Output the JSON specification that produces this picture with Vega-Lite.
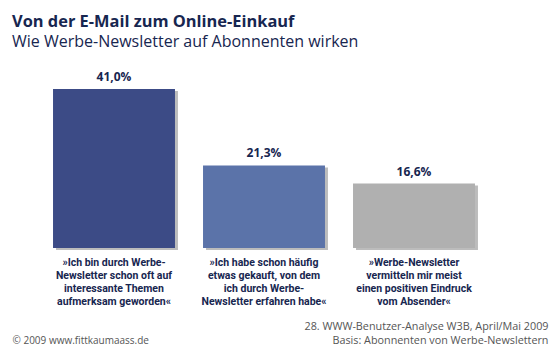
{
  "$schema": "https://vega.github.io/schema/vega-lite/v6.json",
  "autosize": {"type": "none"},
  "padding": {"left": 39, "top": 89, "right": 71, "bottom": 102},
  "width": 450,
  "height": 159,
  "background": "white",
  "title": {
    "text": "Von der E-Mail zum Online-Einkauf",
    "subtitle": "Wie Werbe-Newsletter auf Abonnenten wirken",
    "anchor": "start",
    "frame": "group",
    "dx": -27,
    "offset": 21,
    "font": "Open Sans",
    "fontSize": 16.4,
    "fontWeight": "bold",
    "color": "#172650",
    "subtitleFont": "Open Sans",
    "subtitleFontSize": 16,
    "subtitleColor": "#172650",
    "subtitlePadding": 4
  },
  "data": {
    "values": [
      {"aussage": "»Ich bin durch Werbe-|Newsletter schon oft auf|interessante Themen|aufmerksam geworden«", "anteil": 41.0, "label": "41,0%", "gruppe": "a"},
      {"aussage": "»Ich habe schon häufig|etwas gekauft, von dem|ich durch Werbe-|Newsletter erfahren habe«", "anteil": 21.3, "label": "21,3%", "gruppe": "b"},
      {"aussage": "»Werbe-Newsletter|vermitteln mir meist|einen positiven Eindruck|vom Absender«", "anteil": 16.6, "label": "16,6%", "gruppe": "c"}
    ]
  },
  "encoding": {
    "x": {
      "field": "aussage",
      "type": "nominal",
      "sort": null,
      "scale": {"paddingInner": 0.187, "paddingOuter": 0.0935},
      "axis": {
        "domain": false,
        "ticks": false,
        "labelAngle": 0,
        "labelExpr": "split(datum.label, '|')",
        "labelFont": "Roboto",
        "labelFontWeight": "bold",
        "labelFontSize": 10.5,
        "labelLineHeight": 13.3,
        "labelColor": "#172650",
        "labelPadding": 9,
        "labelLimit": 200,
        "title": ["28. WWW-Benutzer-Analyse W3B, April/Mai 2009", "Basis: Abonnenten von Werbe-Newslettern"],
        "titleFont": "Open Sans",
        "titleFontWeight": "normal",
        "titleFontSize": 10.8,
        "titleColor": "#555555",
        "titleAlign": "right",
        "titleAnchor": "end",
        "titleBaseline": "top",
        "titleLineHeight": 14,
        "titleX": 509,
        "titleY": 72
      }
    },
    "y": {
      "field": "anteil",
      "type": "quantitative",
      "scale": {"domain": [0, 41], "nice": false},
      "axis": {
        "domain": false,
        "ticks": false,
        "labels": false,
        "grid": false,
        "title": "© 2009 www.fittkaumaass.de",
        "titleFont": "Open Sans",
        "titleFontWeight": "normal",
        "titleFontSize": 10,
        "titleColor": "#555555",
        "titleAngle": 0,
        "titleAlign": "left",
        "titleBaseline": "alphabetic",
        "titleX": -27,
        "titleY": 254
      }
    }
  },
  "layer": [
    {
      "mark": {"type": "bar", "color": "#6a6a6a", "opacity": 0.45, "xOffset": 3, "yOffset": 2},
      "encoding": {}
    },
    {
      "mark": {"type": "bar"},
      "encoding": {
        "color": {
          "field": "gruppe",
          "type": "nominal",
          "scale": {"domain": ["a", "b", "c"], "range": ["#3c4b86", "#5b73a9", "#b0b0b0"]},
          "legend": null
        }
      }
    },
    {
      "mark": {"type": "text", "baseline": "bottom", "dy": -5, "font": "Open Sans", "fontWeight": "bold", "fontSize": 12, "color": "#172650"},
      "encoding": {"text": {"field": "label"}}
    }
  ],
  "config": {"view": {"stroke": null}}
}
